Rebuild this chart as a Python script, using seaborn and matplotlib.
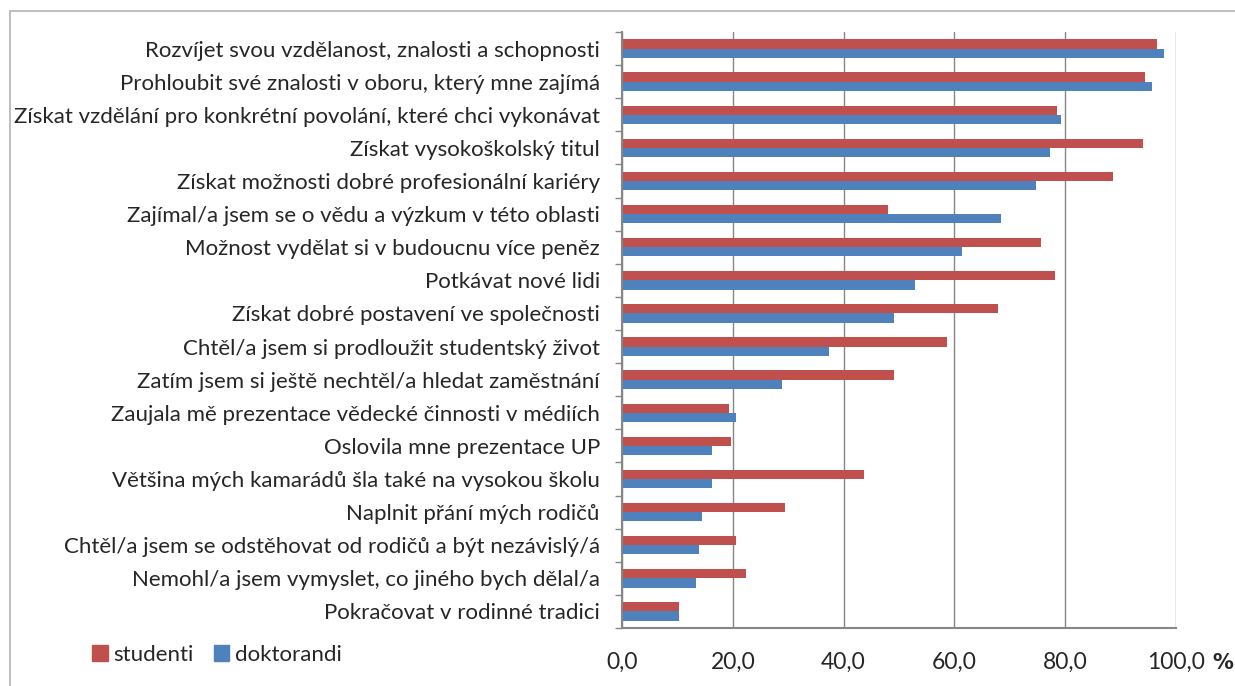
import pandas as pd
import numpy as np
import seaborn as sns
import matplotlib.pyplot as plt
from matplotlib.patches import Rectangle

categories = [
    "Rozvíjet svou vzdělanost, znalosti a schopnosti",
    "Prohloubit své znalosti v oboru, který mne zajímá",
    "Získat vzdělání pro konkrétní povolání, které chci vykonávat",
    "Získat vysokoškolský titul",
    "Získat možnosti dobré profesionální kariéry",
    "Zajímal/a jsem se o vědu a výzkum v této oblasti",
    "Možnost vydělat si v budoucnu více peněz",
    "Potkávat nové lidi",
    "Získat dobré postavení ve společnosti",
    "Chtěl/a jsem si prodloužit studentský život",
    "Zatím jsem si ještě nechtěl/a hledat zaměstnání",
    "Zaujala mě prezentace vědecké činnosti v médiích",
    "Oslovila mne prezentace UP",
    "Většina mých kamarádů šla také na vysokou školu",
    "Naplnit přání mých rodičů",
    "Chtěl/a jsem se odstěhovat od rodičů a být nezávislý/á",
    "Nemohl/a jsem vymyslet, co jiného bych dělal/a",
    "Pokračovat v rodinné tradici",
]
studenti = [96.5, 94.4, 78.5, 94.1, 88.6, 48.0, 75.6, 78.2, 67.8, 58.6,
            49.1, 19.3, 19.6, 43.6, 29.4, 20.6, 22.4, 10.2]
doktorandi = [97.8, 95.6, 79.2, 77.2, 74.8, 68.4, 61.4, 52.9, 49.1, 37.4,
              28.8, 20.5, 16.3, 16.2, 14.4, 13.9, 13.3, 10.3]
series = ["studenti", "doktorandi"]
colors = ["#C0504D", "#4F81BD"]
xticks = [0, 20, 40, 60, 80, 100]

df = pd.DataFrame({
    "kategorie": categories * 2,
    "skupina": ["studenti"] * len(categories) + ["doktorandi"] * len(categories),
    "hodnota": studenti + doktorandi,
})

sns.set_style("white")
plt.rcParams["font.family"] = ["Lato", "DejaVu Sans"]
fs = 16

W, H = 1235, 686
fig = plt.figure(figsize=(W / 100, H / 100), dpi=100)
ax = fig.add_axes([622 / W, 1 - 628 / H, (1176 - 622) / W, (628 - 32) / H])

sns.barplot(data=df, y="kategorie", x="hodnota", hue="skupina",
            hue_order=series, palette=colors, order=categories,
            width=0.56, gap=0, orient="h", ax=ax, legend=False,
            saturation=1, linewidth=0)

ax.set_xlim(0, 100)
ax.set_ylim(len(categories) - 0.5, -0.5)
ax.set_xticks(xticks)
ax.set_xticklabels([f"{v:.1f}".replace(".", ",") for v in xticks], fontsize=fs + 0.5)
ax.set_xlabel("")
ax.set_ylabel("")
ax.tick_params(axis="x", length=6, width=1, color="#868686", pad=11)
ax.tick_params(axis="y", length=0, pad=16, labelsize=fs)

# category boundary ticks
ax.set_yticks(np.arange(len(categories) + 1) - 0.5, minor=True)
ax.tick_params(axis="y", which="minor", length=5, width=1, color="#868686", left=True)

ax.grid(axis="x", color="#868686", linewidth=1)
ax.set_axisbelow(True)
for s in ["top", "right"]:
    ax.spines[s].set_visible(False)
for s in ["left", "bottom"]:
    ax.spines[s].set_color("#868686")
    ax.spines[s].set_linewidth(1.5)

fig.text(1223 / W, 1 - 663 / H, "%", fontsize=fs - 1, fontweight="bold",
         family="DejaVu Sans", ha="center", va="center")

handles = [Rectangle((0, 0), 1, 1, color=c) for c in colors]
fig.legend(handles, series, loc="center left", bbox_to_anchor=(92 / W, 1 - 655 / H),
           ncol=2, frameon=False, fontsize=fs, handlelength=0.7, handleheight=0.7,
           handletextpad=0.27, columnspacing=0.9, borderpad=0, borderaxespad=0)

fig.patches.append(Rectangle((10 / W, -0.1), 1.2, 1 - 11 / H + 0.1, transform=fig.transFigure,
                             fill=False, edgecolor="#B3B3B3", linewidth=1.2))

fig.savefig("out.png", dpi=100)
